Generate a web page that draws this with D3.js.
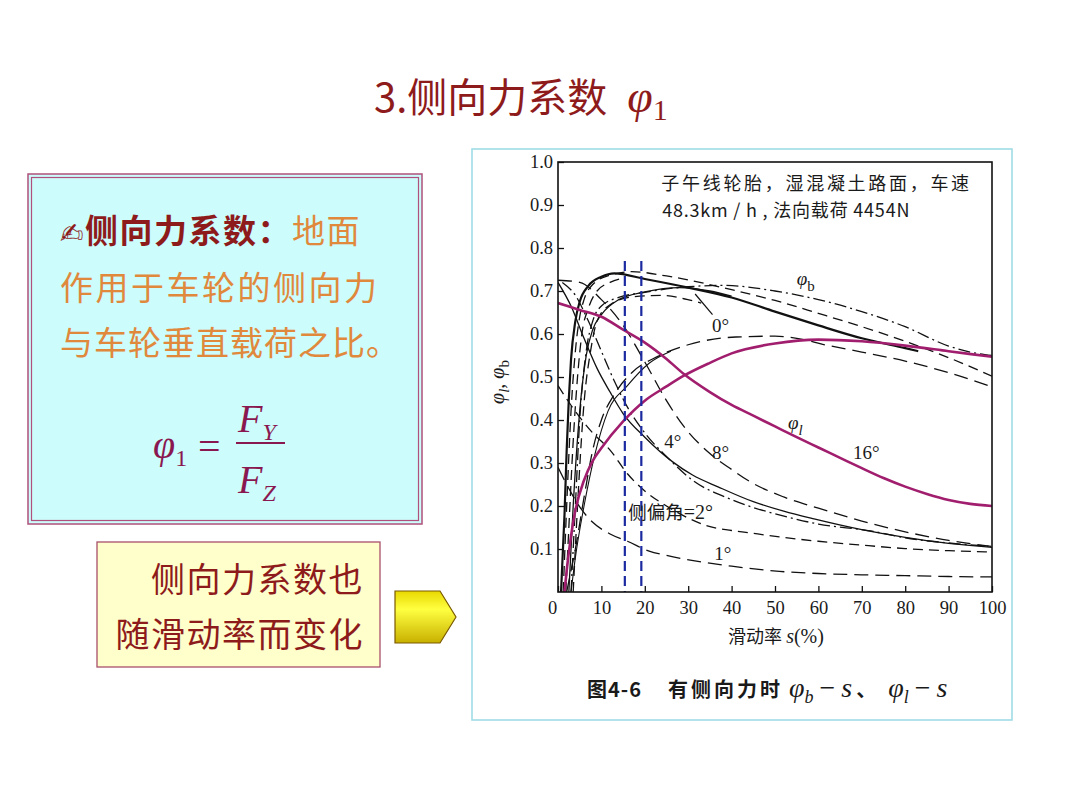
<!DOCTYPE html>
<html><head><meta charset="utf-8">
<script src="https://cdn.jsdelivr.net/npm/d3@7"></script>
<style>body{margin:0;background:#fff}</style></head>
<body>
<svg id="c" width="1080" height="810"></svg>
<script>
// ---------- data ----------
const xTicks = [0,10,20,30,40,50,60,70,80,90,100];
const yTicks = [0.1,0.2,0.3,0.4,0.5,0.6,0.7,0.8,0.9,1.0];
const blueSlips = [15.4, 19.2];
const blueTop = 0.77;

// φb curves (black)
const phiB0   = [[0.7,0],[1.5,0.18],[2,0.33],[2.5,0.45],[3,0.54],[4,0.63],[5,0.675],[7,0.712],[10,0.733],[13,0.741],[20,0.728],[30,0.708],[40,0.685],[50,0.652],[60,0.62],[70,0.59],[80,0.567],[83,0.56]];
const phiBDash = [[1.2,0],[2,0.2],[3,0.42],[4,0.56],[5,0.64],[6,0.68],[8,0.715],[12,0.737],[17,0.745],[25,0.735],[40,0.703],[50,0.678],[60,0.648],[70,0.617],[80,0.583],[90,0.545],[100,0.502]];
const phiBDashDot = [[3,0],[4,0.2],[5,0.4],[6.5,0.56],[8,0.63],[10,0.665],[14,0.685],[20,0.697],[30,0.71],[38,0.713],[50,0.7],[60,0.68],[70,0.652],[80,0.617],[90,0.572],[95,0.558],[100,0.55]];
const phiBThin = [[2.5,0],[3.5,0.2],[5,0.42],[6.5,0.55],[8,0.61],[10,0.645],[14,0.68],[20,0.698],[28,0.708],[35,0.7],[40,0.688]];
const phiBDash2 = [[3.5,0],[4.5,0.2],[6,0.44],[7.5,0.56],[9,0.63],[12,0.668],[17,0.686],[24,0.69],[29,0.682],[33,0.672]];
const phiBLong = [[2,0],[3,0.05],[4,0.1],[6,0.22],[8,0.33],[10,0.4],[13,0.46],[17,0.51],[23,0.548],[30,0.575],[41,0.593],[50,0.595],[56,0.588],[61,0.576],[70,0.558],[80,0.537],[90,0.51],[100,0.477]];
const phiBRise = [[3,0],[4,0.08],[6,0.2],[8.5,0.32],[11.5,0.42],[16,0.48],[21,0.532],[26,0.56]];
const phiBSteep = [[1.8,0],[2.5,0.15],[3.5,0.35],[4.5,0.5],[5.5,0.6],[7,0.66],[9,0.7],[12,0.72],[15,0.73]];
// φl curves (black)
const phiL1 = [[0,0.29],[2,0.25],[5,0.198],[8,0.162],[12,0.135],[16,0.118],[21,0.095],[25,0.085],[33,0.07],[40,0.06],[51,0.048],[60,0.043],[70,0.04],[80,0.038],[90,0.036],[100,0.035]];
const phiL2 = [[0,0.48],[4,0.42],[8,0.37],[12,0.33],[16,0.275],[20,0.235],[25,0.2],[30,0.172],[34,0.155],[40,0.143],[46,0.135],[51,0.128],[60,0.118],[70,0.109],[80,0.101],[90,0.096],[100,0.093]];
const phiL4 = [[0,0.72],[3,0.665],[6,0.59],[9,0.52],[12,0.465],[15,0.415],[20,0.36],[26.5,0.302],[31,0.272],[37,0.244],[45,0.21],[52,0.188],[59,0.17],[70,0.145],[80,0.127],[90,0.113],[100,0.104]];
const phiLDashDot = [[1,0.72],[4,0.69],[7,0.63],[10,0.56],[13,0.49],[16,0.43],[20,0.37],[25,0.315],[31,0.26],[40,0.215],[53,0.174],[60,0.158],[72,0.142],[80,0.126],[90,0.114],[100,0.106]];
const phiL8 = [[0,0.725],[5,0.72],[10,0.68],[15,0.62],[20,0.535],[25,0.445],[29,0.385],[35,0.322],[40,0.285],[44,0.258],[52,0.221],[60,0.195],[70,0.165],[80,0.14],[90,0.12],[100,0.106]];
// 16° curves (magenta)
const phiL16 = [[0,0.672],[5,0.656],[10,0.64],[15,0.61],[20,0.58],[25,0.542],[29,0.507],[35,0.465],[40,0.435],[45,0.41],[50,0.385],[55,0.36],[60,0.336],[65,0.312],[70,0.288],[75,0.265],[80,0.245],[85,0.228],[90,0.214],[95,0.205],[100,0.2]];
const phiB16 = [[1.5,0],[2,0.05],[3,0.13],[4,0.19],[6,0.26],[8,0.305],[10,0.335],[15,0.397],[20,0.445],[25,0.478],[29,0.503],[35,0.533],[40,0.555],[50,0.578],[60,0.587],[70,0.583],[80,0.573],[90,0.56],[100,0.547]];

// ---------- styles ----------
const DASH = "10,6", LDASH = "14,7", DD = "12,4,2,4";
const curves = [
  {d: phiL1, c:"#111", w:1.3, dash:LDASH},
  {d: phiL2, c:"#111", w:1.3, dash:DASH},
  {d: phiL4, c:"#111", w:1.3, dash:null},
  {d: phiLDashDot, c:"#111", w:1.3, dash:DD},
  {d: phiL8, c:"#111", w:1.3, dash:LDASH},
  {d: phiBLong, c:"#111", w:1.3, dash:LDASH},
  {d: phiBRise, c:"#111", w:1.1, dash:null},
  {d: phiBSteep, c:"#111", w:1.3, dash:DASH},
  {d: phiBDash2, c:"#111", w:1.3, dash:DASH},
  {d: phiBThin, c:"#111", w:1.3, dash:null},
  {d: phiBDashDot, c:"#111", w:1.3, dash:DD},
  {d: phiBDash, c:"#111", w:1.3, dash:DASH},
  {d: phiB0, c:"#111", w:2.2, dash:null},
  {d: phiL16, c:"#a11e6e", w:2.6, dash:null},
  {d: phiB16, c:"#a11e6e", w:2.6, dash:null}
];

const svg = d3.select("#c");
const RED = "#8e1b1b", ORANGE = "#e0883c", FORM = "#8a1850";
const CJK = "'Noto Sans CJK SC', sans-serif";
const SER = "'Liberation Serif', serif";

// ---------- title ----------
const title = svg.append("text").attr("x",374).attr("y",112)
  .attr("font-family",CJK).attr("font-size",40).attr("fill",RED);
title.append("tspan").text("3.侧向力系数");
title.append("tspan").attr("dx",20).attr("font-family",SER).attr("font-style","italic").attr("font-size",46).text("φ");
title.append("tspan").attr("dy",8).attr("font-family",SER).attr("font-size",30).text("1");

// ---------- left definition box ----------
svg.append("rect").attr("x",28).attr("y",174).attr("width",394).attr("height",350)
  .attr("fill","#ccfcfb").attr("stroke","#b0507c").attr("stroke-width",1.5);
svg.append("rect").attr("x",31.5).attr("y",177.5).attr("width",387).attr("height",343)
  .attr("fill","none").attr("stroke","#b0507c").attr("stroke-width",1.2);

const l1 = svg.append("text").attr("x",60).attr("y",243).attr("font-family",CJK).attr("font-size",33).attr("letter-spacing",1.5);
l1.append("tspan").attr("fill",RED).attr("font-family","'DejaVu Sans', sans-serif").attr("font-size",28).text("✍");
l1.append("tspan").attr("fill",RED).attr("font-weight","bold").text("侧向力系数：");
l1.append("tspan").attr("fill",ORANGE).text("地面");
svg.append("text").attr("x",60).attr("y",300).attr("font-family",CJK).attr("font-size",33).attr("letter-spacing",2.5)
  .attr("fill",ORANGE).text("作用于车轮的侧向力");
svg.append("text").attr("x",60).attr("y",355).attr("font-family",CJK).attr("font-size",33).attr("letter-spacing",1)
  .attr("fill",ORANGE).text("与车轮垂直载荷之比。");

// formula
const f1 = svg.append("text").attr("x",153).attr("y",458).attr("font-family",SER).attr("fill",FORM);
f1.append("tspan").attr("font-style","italic").attr("font-size",40).text("φ");
f1.append("tspan").attr("font-size",24).attr("dy",8).text("1");
svg.append("text").attr("x",198).attr("y",460).attr("font-family",SER).attr("font-size",40).attr("fill",FORM).text("=");
svg.append("line").attr("x1",236).attr("x2",285).attr("y1",443).attr("y2",443).attr("stroke",FORM).attr("stroke-width",1.8);
const fy = svg.append("text").attr("x",238).attr("y",432).attr("font-family",SER).attr("fill",FORM);
fy.append("tspan").attr("font-style","italic").attr("font-size",40).text("F");
fy.append("tspan").attr("font-style","italic").attr("font-size",24).attr("dy",8).text("Y");
const fz = svg.append("text").attr("x",238).attr("y",493).attr("font-family",SER).attr("fill",FORM);
fz.append("tspan").attr("font-style","italic").attr("font-size",40).text("F");
fz.append("tspan").attr("font-style","italic").attr("font-size",24).attr("dy",8).text("Z");

// ---------- bottom-left note + arrow ----------
svg.append("rect").attr("x",97).attr("y",542).attr("width",283).attr("height",125)
  .attr("fill","#ffffcc").attr("stroke","#a8506a").attr("stroke-width",1.3);
svg.append("text").attr("x",364).attr("y",592).attr("text-anchor","end").attr("font-family",CJK).attr("font-size",34)
  .attr("letter-spacing",1.5).attr("fill",RED).text("侧向力系数也");
svg.append("text").attr("x",364).attr("y",647).attr("text-anchor","end").attr("font-family",CJK).attr("font-size",34)
  .attr("letter-spacing",1.5).attr("fill",RED).text("随滑动率而变化");

const defs = svg.append("defs");
const g = defs.append("linearGradient").attr("id","yel").attr("x1",0).attr("y1",0).attr("x2",0).attr("y2",1);
g.append("stop").attr("offset","0%").attr("stop-color","#e8d800");
g.append("stop").attr("offset","35%").attr("stop-color","#ffff40");
g.append("stop").attr("offset","100%").attr("stop-color","#c8b000");
svg.append("path").attr("d","M395,591 L440,591 L456,617 L440,643 L395,643 Z")
  .attr("fill","url(#yel)").attr("stroke","#7a5a00").attr("stroke-width",1.2);

// ---------- chart frame ----------
svg.append("rect").attr("x",472).attr("y",149).attr("width",540).attr("height",571)
  .attr("fill","#fff").attr("stroke","#9fdde6").attr("stroke-width",1.6);

const x = d3.scaleLinear().domain([0,100]).range([558,992]);
const y = d3.scaleLinear().domain([0,1]).range([592,162]);

defs.append("clipPath").attr("id","plotclip").append("rect")
  .attr("x",558).attr("y",162).attr("width",434).attr("height",430);

const plot = svg.append("g").attr("clip-path","url(#plotclip)");
const line = d3.line().x(d=>x(d[0])).y(d=>y(d[1])).curve(d3.curveMonotoneX);

curves.forEach(cv=>{
  plot.append("path").attr("d",line(cv.d)).attr("fill","none")
    .attr("stroke",cv.c).attr("stroke-width",cv.w)
    .attr("stroke-dasharray",cv.dash).attr("stroke-linecap","butt");
});

blueSlips.forEach(s=>{
  plot.append("line").attr("x1",x(s)).attr("x2",x(s)).attr("y1",y(blueTop)).attr("y2",y(0))
    .attr("stroke","#1c2aa0").attr("stroke-width",2.2).attr("stroke-dasharray","10,5");
});

// axes (inward ticks)
const xa = svg.append("g").attr("transform","translate(0,592)")
  .call(d3.axisBottom(x).tickValues(xTicks).tickSize(-6).tickPadding(9).tickFormat(d3.format("d")));
const ya = svg.append("g").attr("transform","translate(558,0)")
  .call(d3.axisLeft(y).tickValues(yTicks).tickSize(-6).tickPadding(5).tickFormat(d3.format(".1f")));
[xa,ya].forEach(a=>{
  a.select(".domain").remove();
  a.selectAll(".tick line").attr("stroke","#111").attr("stroke-width",1.3);
  a.selectAll(".tick text").attr("font-family",SER).attr("font-size",18.5).attr("fill","#1a1a1a");
});
xa.selectAll(".tick text").filter(d=>d===0).attr("dx",-6);
svg.append("rect").attr("x",558).attr("y",162).attr("width",434).attr("height",430)
  .attr("fill","none").attr("stroke","#111").attr("stroke-width",1.6);

// annotations
const ann = (s,v,txt,fs)=> svg.append("text").attr("x",x(s)).attr("y",y(v)).attr("font-family",SER)
    .attr("font-size",fs||19).attr("fill","#1a1a1a").text(txt);

ann(23.8,0.935,"",16).attr("font-family",CJK).attr("font-size",18).attr("letter-spacing",2.7).text("子午线轮胎，湿混凝土路面，车速");
ann(24,0.872,"",16).attr("font-family",CJK).attr("font-size",18).attr("letter-spacing",0.8).text("48.3km / h , 法向载荷 4454N");

const pb = ann(55,0.715,"");
pb.append("tspan").attr("font-style","italic").text("φ");
pb.append("tspan").attr("dy",6).attr("font-size",15).text("b");
ann(35.5,0.605,"0°");
svg.append("line").attr("x1",x(31.6)).attr("y1",y(0.693)).attr("x2",x(35.6)).attr("y2",y(0.645))
  .attr("stroke","#111").attr("stroke-width",1.2);
const pl = ann(53,0.38,"");
pl.append("tspan").attr("font-style","italic").text("φ");
pl.append("tspan").attr("dy",6).attr("font-size",15).attr("font-style","italic").text("l");
ann(68,0.31,"16°");
ann(24.5,0.335,"4°");
ann(35.5,0.31,"8°");
const t2 = ann(16.2,0.17,"");
t2.append("tspan").attr("font-family",CJK).attr("font-size",18.5).text("侧偏角");
t2.append("tspan").attr("font-size",20).text("=2°");
ann(36,0.075,"1°");

// axis titles
const yl = svg.append("text").attr("transform","translate(504,382) rotate(-90)").attr("text-anchor","middle")
  .attr("font-family",SER).attr("font-size",20).attr("fill","#1a1a1a");
yl.append("tspan").attr("font-style","italic").text("φ");
yl.append("tspan").attr("dy",5).attr("font-size",15).attr("font-style","italic").text("l");
yl.append("tspan").attr("dy",-5).text(", ");
yl.append("tspan").attr("font-style","italic").text("φ");
yl.append("tspan").attr("dy",5).attr("font-size",15).text("b");

const xl = svg.append("text").attr("x",776).attr("y",643).attr("text-anchor","middle")
  .attr("font-family",CJK).attr("font-size",18).attr("fill","#1a1a1a");
xl.append("tspan").text("滑动率 ");
xl.append("tspan").attr("font-family",SER).attr("font-style","italic").attr("font-size",20).text("s");
xl.append("tspan").attr("font-family",SER).attr("font-size",20).text("(%)");

const cap = svg.append("text").attr("x",587).attr("y",697).attr("font-family",CJK)
  .attr("font-size",20).attr("fill","#1a1a1a").attr("font-weight","bold");
cap.append("tspan").attr("letter-spacing",1).text("图4-6");
cap.append("tspan").attr("dx",26).attr("letter-spacing",3).text("有侧向力时");
const capM = (t,o)=>cap.append("tspan").attr("font-family",SER).attr("font-weight","normal")
  .attr("font-style",o.it?"italic":"normal").attr("font-size",o.fs).attr("dy",o.dy||0).attr("dx",o.dx||0).text(t);
capM("φ",{it:1,fs:28,dx:6});
capM("b",{it:1,fs:18,dy:6});
capM("−",{fs:28,dy:-6,dx:6});
capM("s",{it:1,fs:28,dx:6});
cap.append("tspan").attr("dx",4).text("、");
capM("φ",{it:1,fs:28,dx:12});
capM("l",{it:1,fs:18,dy:6});
capM("−",{fs:28,dy:-6,dx:6});
capM("s",{it:1,fs:28,dx:6});
</script>
</body></html>
